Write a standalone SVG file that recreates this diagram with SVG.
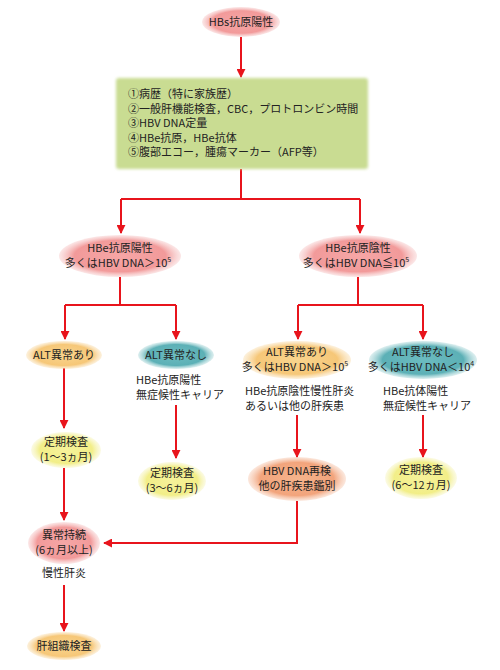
<svg xmlns="http://www.w3.org/2000/svg" width="500" height="670" viewBox="0 0 500 670">
<defs>
<radialGradient id="gPink"><stop offset="0" stop-color="#f6a6a6"/><stop offset="0.75" stop-color="#f29a9a"/><stop offset="1" stop-color="#f6c4c4" stop-opacity="0.4"/></radialGradient>
<radialGradient id="gOrange"><stop offset="0" stop-color="#f9d58e"/><stop offset="0.75" stop-color="#f6c778"/><stop offset="1" stop-color="#f9dcaa" stop-opacity="0.4"/></radialGradient>
<radialGradient id="gTeal"><stop offset="0" stop-color="#6cbcc0"/><stop offset="0.75" stop-color="#5cb0b6"/><stop offset="1" stop-color="#a8d6d8" stop-opacity="0.4"/></radialGradient>
<radialGradient id="gYellow"><stop offset="0" stop-color="#f6f29a"/><stop offset="0.75" stop-color="#f2ee88"/><stop offset="1" stop-color="#f6f4bc" stop-opacity="0.4"/></radialGradient>
<radialGradient id="gSalmon"><stop offset="0" stop-color="#f6b48c"/><stop offset="0.75" stop-color="#f2a47c"/><stop offset="1" stop-color="#f6c6ac" stop-opacity="0.4"/></radialGradient>
<filter id="soft" x="-10%" y="-10%" width="120%" height="120%"><feGaussianBlur stdDeviation="1.5"/></filter>
<marker id="arr" viewBox="0 0 10 10" refX="9" refY="5" markerWidth="9" markerHeight="9" markerUnits="userSpaceOnUse" orient="auto"><path d="M0,0 L10,5 L0,10 Z" fill="#e8141c"/></marker>
</defs>
<style>
text{font-family:"Noto Sans CJK JP","Noto Sans",sans-serif;font-size:11px;fill:#222}
.c{text-anchor:middle}
.line{stroke:#e8141c;stroke-width:2;fill:none}
</style>
<rect width="500" height="670" fill="#ffffff"/>

<g id="connectors">
<path class="line" d="M241,37 V77" marker-end="url(#arr)"/>
<path class="line" d="M241,169 V199 M121,199 H360"/>
<path class="line" d="M121,199 V233" marker-end="url(#arr)"/>
<path class="line" d="M360,199 V233" marker-end="url(#arr)"/>
<path class="line" d="M120,277 V305 M65,305 H176"/>
<path class="line" d="M65,305 V339" marker-end="url(#arr)"/>
<path class="line" d="M176,305 V339" marker-end="url(#arr)"/>
<path class="line" d="M358,277 V305 M298,305 H423"/>
<path class="line" d="M298,305 V339" marker-end="url(#arr)"/>
<path class="line" d="M423,305 V339" marker-end="url(#arr)"/>
<path class="line" d="M64,368 V428" marker-end="url(#arr)"/>
<path class="line" d="M176,405 V458" marker-end="url(#arr)"/>
<path class="line" d="M297,415 V457" marker-end="url(#arr)"/>
<path class="line" d="M423,415 V457" marker-end="url(#arr)"/>
<path class="line" d="M64,468 V520" marker-end="url(#arr)"/>
<path class="line" d="M297,501 V543 H104" marker-end="url(#arr)"/>
<path class="line" d="M64,585 V631" marker-end="url(#arr)"/>
</g>

<g id="n_hbs">
<ellipse cx="241" cy="22" rx="39" ry="15" fill="url(#gPink)"/>
<text class="c" x="241" y="26">HBs抗原陽性</text>
</g>

<g id="n_tests">
<rect x="116" y="78" width="252" height="91" rx="3" fill="#c9dc92" filter="url(#soft)"/>
<text x="128" y="98">①病歴（特に家族歴）</text>
<text x="128" y="112.5">②一般肝機能検査，CBC，プロトロンビン時間</text>
<text x="128" y="127">③HBV DNA定量</text>
<text x="128" y="141.5">④HBe抗原，HBe抗体</text>
<text x="128" y="156">⑤腹部エコー，腫瘍マーカー（AFP等）</text>
</g>

<g id="n_hbeag_pos">
<ellipse cx="120" cy="256" rx="61" ry="21" fill="url(#gPink)"/>
<text class="c" x="120" y="252">HBe抗原陽性</text>
<text class="c" x="118" y="267">多くはHBV DNA＞10<tspan font-size="7" dy="-5">5</tspan></text>
</g>

<g id="n_hbeag_neg">
<ellipse cx="358" cy="256" rx="59" ry="21" fill="url(#gPink)"/>
<text class="c" x="358" y="252">HBe抗原陰性</text>
<text class="c" x="356" y="267">多くはHBV DNA≦10<tspan font-size="7" dy="-5">5</tspan></text>
</g>

<g id="n_alt_ab1">
<ellipse cx="64" cy="355" rx="38" ry="14" fill="url(#gOrange)"/>
<text class="c" x="64" y="359">ALT異常あり</text>
</g>

<g id="n_alt_none1">
<ellipse cx="176" cy="355" rx="38" ry="14" fill="url(#gTeal)"/>
<text class="c" x="176" y="359">ALT異常なし</text>
<text x="136" y="384">HBe抗原陽性</text>
<text x="136" y="399">無症候性キャリア</text>
</g>

<g id="n_alt_ab2">
<ellipse cx="297" cy="360" rx="54" ry="19" fill="url(#gOrange)"/>
<text class="c" x="297" y="356">ALT異常あり</text>
<text class="c" x="295" y="371">多くはHBV DNA＞10<tspan font-size="7" dy="-5">5</tspan></text>
<text x="245" y="395">HBe抗原陰性慢性肝炎</text>
<text x="245" y="410">あるいは他の肝疾患</text>
</g>

<g id="n_alt_none2">
<ellipse cx="423" cy="360" rx="54" ry="19" fill="url(#gTeal)"/>
<text class="c" x="423" y="356">ALT異常なし</text>
<text class="c" x="421" y="371">多くはHBV DNA＜10<tspan font-size="7" dy="-5">4</tspan></text>
<text x="383" y="395">HBe抗体陽性</text>
<text x="383" y="410">無症候性キャリア</text>
</g>

<g id="n_check1">
<ellipse cx="66" cy="450" rx="35" ry="18" fill="url(#gYellow)"/>
<text class="c" x="66" y="446">定期検査</text>
<text class="c" x="66" y="461">(1〜3ヵ月)</text>
</g>

<g id="n_check2">
<ellipse cx="172" cy="481" rx="34" ry="19" fill="url(#gYellow)"/>
<text class="c" x="172" y="477">定期検査</text>
<text class="c" x="172" y="492">(3〜6ヵ月)</text>
</g>

<g id="n_dna">
<ellipse cx="297" cy="479" rx="49" ry="22" fill="url(#gSalmon)"/>
<text class="c" x="297" y="475">HBV DNA再検</text>
<text class="c" x="297" y="490">他の肝疾患鑑別</text>
</g>

<g id="n_check3">
<ellipse cx="421" cy="478" rx="36" ry="21" fill="url(#gYellow)"/>
<text class="c" x="421" y="474">定期検査</text>
<text class="c" x="421" y="489">(6〜12ヵ月)</text>
</g>

<g id="n_persist">
<ellipse cx="64" cy="543" rx="36" ry="21" fill="url(#gPink)"/>
<text class="c" x="64" y="539">異常持続</text>
<text class="c" x="64" y="554">(6ヵ月以上)</text>
<text class="c" x="64" y="577">慢性肝炎</text>
</g>

<g id="n_biopsy">
<ellipse cx="64" cy="646" rx="37" ry="14" fill="url(#gOrange)"/>
<text class="c" x="64" y="650">肝組織検査</text>
</g>
</svg>
